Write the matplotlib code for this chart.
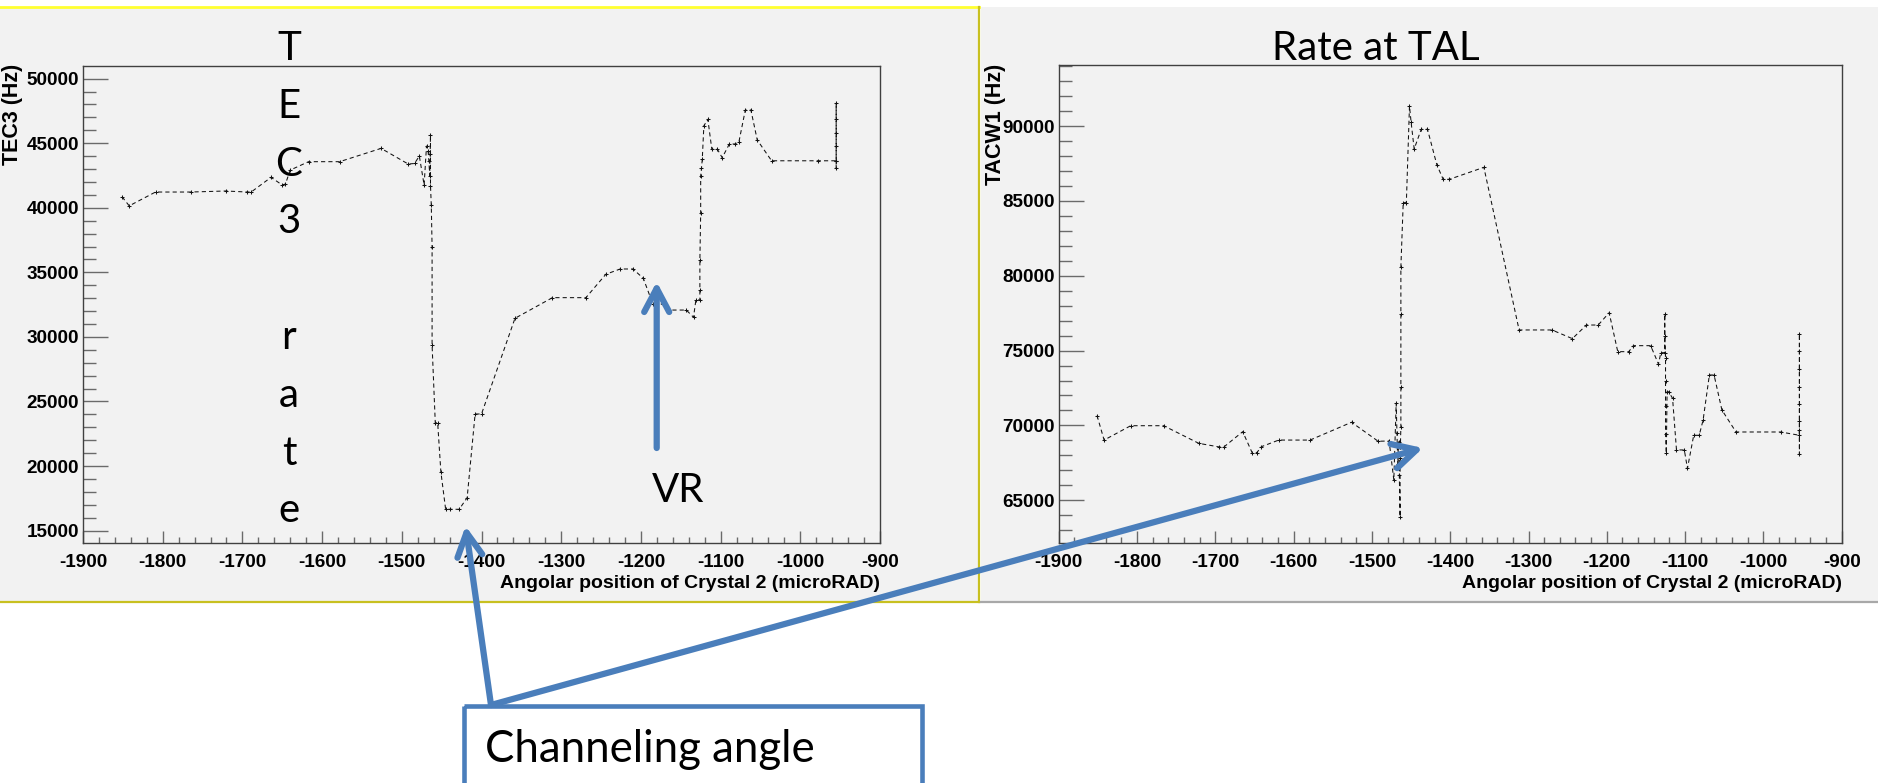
import numpy as np
import matplotlib
matplotlib.use("Agg")
from matplotlib import pyplot as plt
from matplotlib.patches import Rectangle
from matplotlib.ticker import MultipleLocator

plt.rcParams['font.family'] = ['Liberation Sans', 'DejaVu Sans']

W, H = 1878, 783   # canvas size in pixels

# TEC3 rate (Hz) vs angular position of crystal 2 (microrad)
tec3_angle = [-1851, -1842, -1809, -1765, -1721, -1694, -1689, -1664, -1650, -1646,
              -1640, -1617, -1578, -1526, -1492, -1484, -1478, -1472, -1469, -1467,
              -1466, -1465, -1464, -1464, -1464, -1463, -1462, -1462, -1458, -1455,
              -1451, -1445, -1439, -1428, -1418, -1408, -1400, -1358, -1311, -1269,
              -1244, -1226, -1210, -1197, -1185, -1172, -1166, -1143, -1134, -1131,
              -1126, -1126, -1126, -1125, -1125, -1124, -1123, -1121, -1116, -1111,
              -1104, -1098, -1089, -1082, -1077, -1069, -1062, -1054, -1036, -978,
              -955, -955, -955, -955, -955, -955, -955]
tec3_rate = [40850, 40150, 41220, 41220, 41300, 41220, 41220, 42360, 41760, 41840,
             42920, 43570, 43570, 44600, 43390, 43430, 44010, 41760, 44780, 44400,
             43600, 42500, 45630, 44200, 41700, 40210, 36980, 29370, 23360, 23360,
             19560, 16650, 16650, 16650, 17550, 24030, 24030, 31440, 33040, 33040,
             34850, 35260, 35260, 34540, 32550, 32550, 32080, 32080, 31520, 32860,
             32860, 33630, 35950, 39570, 42460, 43050, 43750, 46350, 46850, 44530,
             44530, 43880, 44940, 44940, 45110, 47570, 47570, 45250, 43640, 43640,
             43640, 48090, 46900, 45800, 44800, 43050, 43640]

# TACW1 rate (Hz) vs angular position of crystal 2 (microrad)
tacw1_angle = [-1851, -1842, -1808, -1766, -1721, -1695, -1689, -1665, -1653, -1647,
               -1641, -1619, -1579, -1526, -1492, -1478, -1472, -1469, -1468, -1467,
               -1466, -1465, -1464, -1464, -1463, -1463, -1463, -1463, -1460, -1456,
               -1452, -1450, -1446, -1437, -1429, -1417, -1409, -1401, -1357, -1312,
               -1270, -1244, -1226, -1211, -1197, -1186, -1172, -1166, -1144, -1134,
               -1131, -1126, -1126, -1126, -1125, -1125, -1125, -1125, -1124, -1123,
               -1121, -1116, -1111, -1101, -1097, -1089, -1082, -1077, -1069, -1063,
               -1053, -1035, -978, -954, -954, -954, -954, -954, -954, -954, -954, -954]
tacw1_rate = [70650, 69020, 69980, 69980, 68800, 68560, 68560, 69580, 68180, 68180,
              68580, 69020, 69020, 70210, 68940, 68960, 66350, 71480, 69500, 67400,
              68900, 66700, 63900, 67800, 69900, 72590, 77430, 80570, 84890, 84890,
              91350, 90300, 88480, 89790, 89790, 87410, 86450, 86450, 87250, 76380,
              76380, 75800, 76710, 76710, 77530, 74930, 74930, 75330, 75330, 74100,
              74860, 74860, 77430, 76000, 74500, 73000, 71300, 69400, 68140, 72250,
              72250, 71810, 68360, 68360, 67130, 69340, 69340, 70360, 73370, 73370,
              71030, 69560, 69560, 69340, 76110, 75000, 73800, 72600, 71400, 70300,
              68090, 69700]

x_ticks = np.arange(-1900, -899, 100)
tec3_ticks = np.arange(15000, 50001, 5000)
tacw1_ticks = np.arange(65000, 90001, 5000)
x_title = "Angolar position of Crystal 2 (microRAD)"

GRAY = "#f2f2f2"
BLUE = "#4a7ebb"


def px_box(x0, y0, x1, y1):
    """pixel box (top-left origin) -> figure fraction rect"""
    return [x0 / W, 1 - y1 / H, (x1 - x0) / W, (y1 - y0) / H]


fig = plt.figure(figsize=(W / 100, H / 100), dpi=100)
fig.patch.set_facecolor("white")

# slide background: the two pasted canvases
bg = fig.add_axes([0, 0, 1, 1], zorder=0)
bg.set_xlim(0, W)
bg.set_ylim(H, 0)
bg.axis("off")
bg.add_patch(Rectangle((0, 7), 979, 595, fc=GRAY, ec="none"))
bg.add_patch(Rectangle((981, 7), W - 981, 595, fc=GRAY, ec="none"))
bg.plot([0, 979], [7, 7], color="#ffff30", lw=2.0)
bg.plot([979, 979], [7, 602], color="#c8c020", lw=1.6)
bg.plot([0, 979], [602, 602], color="#c8c020", lw=1.6)
bg.plot([981, W], [602, 602], color="#a8a8a8", lw=1.6)


def rate_panel(box, angle, rate, ylim, yticks):
    ax = fig.add_axes(px_box(*box), zorder=1)
    ax.set_facecolor(GRAY)
    ax.plot(angle, rate, ls=(0, (4, 3)), lw=0.75, color="#111111",
            marker="+", ms=3.5, mew=0.75)
    ax.set_xlim(-1900, -900)
    ax.set_ylim(*ylim)
    ax.set_xticks(x_ticks)
    ax.set_xticklabels([str(v) for v in x_ticks])
    ax.xaxis.set_minor_locator(MultipleLocator(20))
    ax.set_yticks(yticks)
    ax.set_yticklabels([str(v) for v in yticks])
    ax.yaxis.set_minor_locator(MultipleLocator(1000))
    ax.tick_params(which="both", direction="in", color="#6a6a6a", width=1.0,
                   top=False, right=False, labelsize=13.6)
    ax.tick_params(axis="y", which="major", length=18, pad=3)
    ax.tick_params(axis="y", which="minor", length=9)
    ax.tick_params(axis="x", which="major", length=9, pad=8)
    ax.tick_params(axis="x", which="minor", length=4)
    for lab in ax.get_xticklabels() + ax.get_yticklabels():
        lab.set_fontweight("bold")
    for sp in ax.spines.values():
        sp.set_color("#404040")
        sp.set_linewidth(1.0)
    ax.set_xlabel(x_title, loc="right", fontsize=14, fontweight="bold", labelpad=3)
    return ax


rate_panel((83, 66, 880, 543), tec3_angle, tec3_rate, (14040, 50980), tec3_ticks)
rate_panel((1058.7, 65, 1841.7, 543), tacw1_angle, tacw1_rate, (62140, 94090), tacw1_ticks)

# annotations drawn over everything, in pixel coordinates
top = fig.add_axes([0, 0, 1, 1], zorder=3)
top.set_xlim(0, W)
top.set_ylim(H, 0)
top.axis("off")

top.text(13, 64, "TEC3 (Hz)", rotation=90, ha="center", va="top",
         fontsize=15.5, fontweight="bold")
top.text(996, 64, "TACW1 (Hz)", rotation=90, ha="center", va="top",
         fontsize=15.5, fontweight="bold")

big = dict(fontsize=29, family=["Lato", "DejaVu Sans"], va="baseline")
for i, ch in enumerate("TEC3 rate"):
    top.text(289, 60 + 57.8 * i, ch, ha="center", **big)
top.text(1376, 60, "Rate at TAL", ha="center", **big)
top.text(678, 501.7, "VR", ha="center", **big)
top.text(485, 761.7, "Channeling angle", ha="left",
         **dict(big, fontsize=31.5))
top.add_patch(Rectangle((463.6, 705.7), 458, 120, fill=False, ec=BLUE, lw=3.3))

arrow = dict(arrowstyle="->,head_length=17,head_width=9", mutation_scale=1,
             lw=4.5, color=BLUE, shrinkA=0, shrinkB=0,
             capstyle="round", joinstyle="round")
top.annotate("", xy=(656.7, 281.7), xytext=(656.7, 448), arrowprops=arrow)
top.annotate("", xy=(465.6, 526), xytext=(491, 705), arrowprops=arrow)
top.annotate("", xy=(1423, 448), xytext=(491, 705), arrowprops=arrow)

fig.savefig("out.png", dpi=100)
